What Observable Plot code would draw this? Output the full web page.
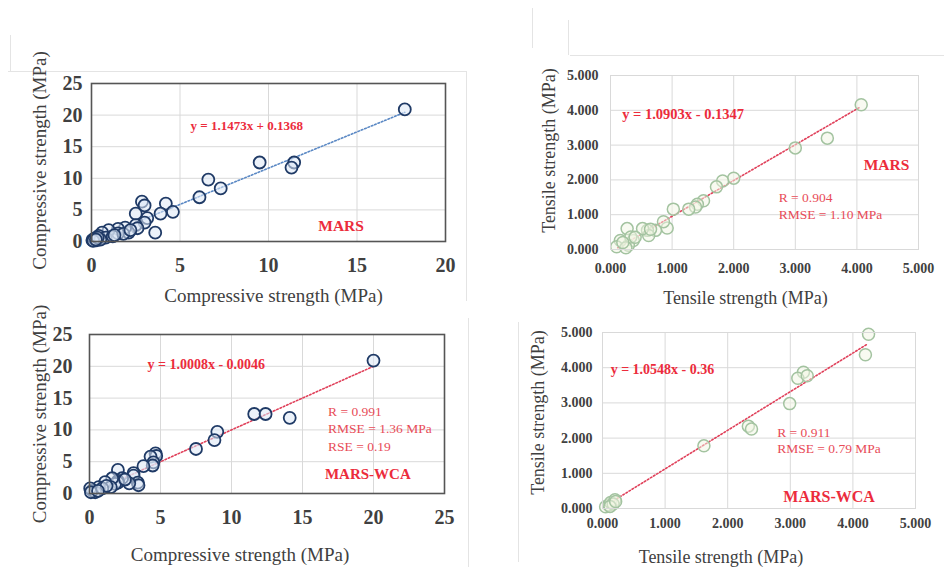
<!DOCTYPE html>
<html>
<head>
<meta charset="utf-8">
<script src="https://cdn.jsdelivr.net/npm/d3@7"></script>
<script src="https://cdn.jsdelivr.net/npm/@observablehq/plot@0.6"></script>
<style>
  html, body { margin: 0; padding: 0; background: #fff; }
  #root { position: relative; width: 944px; height: 567px; overflow: hidden; background: #fff; }
  .panel { position: absolute; }
  .panel svg { overflow: visible; }
  .deco { position: absolute; background: #e4e4e4; }
</style>
</head>
<body>
<div id="root">
  <div class="deco" style="left:8px;top:71px;width:458px;height:1px;"></div>
  <div class="deco" style="left:466px;top:71px;width:1px;height:230px;"></div>
  <div class="deco" style="left:468px;top:318px;width:1px;height:249px;"></div>
  <div class="deco" style="left:570px;top:55px;width:374px;height:1px;"></div>
  <div class="deco" style="left:518px;top:322px;width:1px;height:240px;"></div>
  <div class="deco" style="left:10px;top:35px;width:1px;height:36px;"></div>
  <div class="deco" style="left:532px;top:8px;width:1px;height:40px;"></div>
  <div class="deco" style="left:568px;top:20px;width:1px;height:35px;"></div>
  <div id="p1" class="panel" style="left:0px;top:50px;"></div>
  <div id="p2" class="panel" style="left:0px;top:310px;"></div>
  <div id="p3" class="panel" style="left:470px;top:50px;"></div>
  <div id="p4" class="panel" style="left:470px;top:320px;"></div>
</div>
<script>
// ---------- Data ----------
// Compressive strength, MARS (x = measured, y = predicted)
const compMarsX = [17.7, 9.5, 11.45, 11.3, 6.6, 7.3, 6.1, 2.85, 3.0, 4.2, 4.6, 3.9, 2.5, 3.15, 3.0, 3.6, 2.5, 2.6, 2.1, 1.9, 1.5, 1.5, 0.97, 0.6, 0.4, 0.8, 0.2, 0.05, 1.2, 1.8, 0.3, 0.15, 0.5, 0.1, 0.35, 0.25, 2.2, 1.3];
const compMarsY = [20.9, 12.5, 12.5, 11.7, 9.8, 8.4, 7.0, 6.3, 5.7, 6.0, 4.7, 4.4, 4.4, 3.7, 3.0, 1.4, 2.6, 2.1, 1.4, 2.2, 2.0, 1.3, 1.8, 1.4, 0.9, 0.6, 0.5, 0.2, 0.8, 1.2, 0.2, 0.4, 0.3, 0.1, 0.6, 0.3, 1.8, 1.0];
// Compressive strength, MARS-WCA
const compWcaX = [20.0, 11.6, 12.4, 14.1, 9.0, 8.8, 7.5, 4.65, 4.7, 4.3, 4.5, 4.45, 3.8, 2.0, 3.1, 3.1, 3.4, 3.45, 2.8, 2.3, 2.0, 2.0, 1.8, 1.6, 1.1, 0.65, 1.5, 0.2, 0.4, 0.05, 0.1, 0.9, 1.2, 0.6, 2.5];
const compWcaY = [20.9, 12.5, 12.5, 11.9, 9.7, 8.4, 7.0, 6.3, 5.9, 5.8, 4.9, 4.4, 4.3, 3.7, 3.2, 2.8, 1.7, 1.3, 1.6, 2.4, 2.0, 1.7, 1.5, 2.4, 1.8, 1.0, 1.0, 0.5, 0.2, 0.8, 0.2, 0.8, 1.2, 0.4, 2.2];
// Tensile strength, MARS
const tensMarsX = [4.07, 3.52, 3.0, 2.0, 1.82, 1.72, 1.51, 1.41, 1.38, 1.27, 1.02, 0.92, 0.86, 0.73, 0.6, 0.62, 0.52, 0.27, 0.37, 0.29, 0.16, 0.1, 0.33, 0.25, 0.4, 0.2, 0.65];
const tensMarsY = [4.16, 3.2, 2.92, 2.05, 1.97, 1.8, 1.4, 1.3, 1.22, 1.16, 1.16, 0.62, 0.8, 0.55, 0.55, 0.4, 0.6, 0.6, 0.26, 0.12, 0.26, 0.08, 0.36, 0.05, 0.35, 0.2, 0.58];
// Tensile strength, MARS-WCA
const tensWcaX = [4.25, 4.2, 3.21, 3.12, 3.27, 2.99, 2.33, 2.38, 1.62, 0.05, 0.1, 0.13, 0.2, 0.17, 0.12, 0.21];
const tensWcaY = [4.95, 4.37, 3.87, 3.7, 3.77, 2.98, 2.34, 2.26, 1.78, 0.05, 0.1, 0.17, 0.25, 0.13, 0.06, 0.2];

// Trend lines (end points as drawn)
const trendMarsCompX = [0, 17.7];
const trendMarsCompY = [0.1368, 20.44];
const trendWcaCompX = [0, 20.0];
const trendWcaCompY = [0, 20.0];
const trendMarsTensX = [0.12, 4.06];
const trendMarsTensY = [0.05, 4.1];
const trendWcaTensX = [0.13, 4.24];
const trendWcaTensY = [0.17, 4.68];

// Ticks
const compTicksX1 = [0, 5, 10, 15, 20];
const compTicksX2 = [0, 5, 10, 15, 20, 25];
const compTicksY = [0, 5, 10, 15, 20, 25];
const tensTicks = [0, 1, 2, 3, 4, 5];

// Labels
const compTitle = "Compressive strength (MPa)";
const tensTitle = "Tensile strength (MPa)";
const eqMarsComp = "y = 1.1473x + 0.1368";
const eqWcaComp = "y = 1.0008x - 0.0046";
const eqMarsTens = "y = 1.0903x - 0.1347";
const eqWcaTens = "y = 1.0548x - 0.36";
const statsWcaComp = ["R = 0.991", "RMSE = 1.36 MPa", "RSE = 0.19"];
const statsMarsTens = ["R = 0.904", "RMSE = 1.10 MPa"];
const statsWcaTens = ["R = 0.911", "RMSE = 0.79 MPa"];
const nameMars = "MARS";
const nameWca = "MARS-WCA";

// ---------- Styling ----------
const SERIF = "'Liberation Serif', 'Times New Roman', serif";
const RED = "#ec2c3c";
const RED2 = "#e84c58";
const TXT = "#404040";

function panel(cfg) {
  const idx = cfg.xs.map((_, i) => i);
  const tIdx = cfg.tx.map((_, i) => i);
  const marks = [
    Plot.gridX(cfg.xTicks.filter(v => v > cfg.xDomain[0] && v < cfg.xDomain[1]), {stroke: "#d9d9d9", strokeOpacity: 1, strokeWidth: 1}),
    Plot.gridY(cfg.yTicks.filter(v => v > cfg.yDomain[0] && v < cfg.yDomain[1]), {stroke: "#d9d9d9", strokeOpacity: 1, strokeWidth: 1}),
    Plot.axisX(cfg.xTicks, {tickSize: 0, tickPadding: cfg.xPad, fontSize: cfg.tickFont, fontWeight: "bold", fill: TXT, label: null, tickFormat: cfg.fmt}),
    Plot.axisY(cfg.yTicks, {tickSize: 0, tickPadding: cfg.yPad, fontSize: cfg.tickFont, fontWeight: "bold", fill: TXT, label: null, tickFormat: cfg.fmt}),
    Plot.line(tIdx, {x: i => cfg.tx[i], y: i => cfg.ty[i], stroke: cfg.trendColor, strokeWidth: 1.6, strokeDasharray: "1.6,2"}),
    Plot.dot(idx, {x: i => cfg.xs[i], y: i => cfg.ys[i], r: cfg.r, stroke: cfg.dotStroke, fill: cfg.dotFill, fillOpacity: cfg.dotFillOpacity, strokeWidth: cfg.dotStrokeWidth}),
    Plot.frame({stroke: cfg.frameColor, strokeWidth: cfg.frameWidth}),
    Plot.text([cfg.xTitle], {frameAnchor: "bottom", text: d => d, dx: cfg.xTitleDx, dy: cfg.xTitleDy, lineAnchor: "middle", fontSize: cfg.titleFont, fontWeight: "normal", fill: TXT}),
    Plot.text([cfg.yTitle], {frameAnchor: "left", text: d => d, rotate: -90, textAnchor: "middle", dx: cfg.yTitleDx, dy: cfg.yTitleDy, lineAnchor: "middle", fontSize: cfg.titleFont, fontWeight: "normal", fill: TXT}),
    Plot.text([cfg.eq], {x: cfg.eqX, y: cfg.eqY, text: d => d, textAnchor: "start", lineAnchor: "middle", fontSize: cfg.eqFont, fontWeight: "bold", fill: RED}),
    Plot.text([cfg.name], {x: cfg.nameX, y: cfg.nameY, text: d => d, textAnchor: "middle", lineAnchor: "middle", fontSize: cfg.nameFont, fontWeight: "bold", fill: RED})
  ];
  if (cfg.stats) {
    marks.push(Plot.text([cfg.stats.join("\n")], {x: cfg.statsX, y: cfg.statsY, text: d => d, textAnchor: "start", lineAnchor: "middle", lineHeight: cfg.statsLH, fontSize: cfg.statsFont, fontWeight: "normal", fill: RED2}));
  }
  const chart = Plot.plot({
    width: cfg.width, height: cfg.height,
    marginLeft: cfg.ml, marginRight: cfg.mr, marginTop: cfg.mt, marginBottom: cfg.mb,
    x: {domain: cfg.xDomain, label: null},
    y: {domain: cfg.yDomain, label: null},
    style: {fontFamily: SERIF, background: "transparent", overflow: "visible"},
    marks
  });
  document.getElementById(cfg.id).appendChild(chart);
}

const fmt3 = d3.format(".3f");
const fmt0 = d3.format("d");

panel({
  id: "p1", width: 470, height: 270, ml: 91, mr: 25, mt: 33, mb: 79,
  xs: compMarsX, ys: compMarsY, tx: trendMarsCompX, ty: trendMarsCompY,
  xDomain: [0, 20], yDomain: [0, 25], xTicks: compTicksX1, yTicks: compTicksY, fmt: fmt0,
  tickFont: 20, xPad: 16, yPad: 9, titleFont: 19,
  xTitle: compTitle, yTitle: compTitle, xTitleDx: 5, xTitleDy: 54, yTitleDx: -52, yTitleDy: -2,
  trendColor: "#5a88c4", r: 6, dotStroke: "#1f3a66", dotFill: "#dde8f6", dotFillOpacity: 0.55, dotStrokeWidth: 1.8,
  frameColor: "#555", frameWidth: 1.6,
  eq: eqMarsComp, eqX: 5.6, eqY: 18.35, eqFont: 13,
  name: nameMars, nameX: 14.1, nameY: 2.5, nameFont: 15.5
});

panel({
  id: "p2", width: 470, height: 257, ml: 89, mr: 26, mt: 24, mb: 74,
  xs: compWcaX, ys: compWcaY, tx: trendWcaCompX, ty: trendWcaCompY,
  xDomain: [0, 25], yDomain: [0, 25], xTicks: compTicksX2, yTicks: compTicksY, fmt: fmt0,
  tickFont: 20, xPad: 16, yPad: 17, titleFont: 19,
  xTitle: compTitle, yTitle: compTitle, xTitleDx: -27, xTitleDy: 61, yTitleDx: -50, yTitleDy: 0,
  trendColor: "#e0405a", r: 6, dotStroke: "#1f3a66", dotFill: "#dde8f6", dotFillOpacity: 0.55, dotStrokeWidth: 1.8,
  frameColor: "#555", frameWidth: 1.6,
  eq: eqWcaComp, eqX: 4.08, eqY: 20.25, eqFont: 14,
  name: nameWca, nameX: 19.6, nameY: 3.0, nameFont: 15,
  stats: statsWcaComp, statsX: 16.8, statsY: 10.36, statsLH: 1.3, statsFont: 13.5
});

panel({
  id: "p3", width: 474, height: 270, ml: 140, mr: 26, mt: 25, mb: 71,
  xs: tensMarsX, ys: tensMarsY, tx: trendMarsTensX, ty: trendMarsTensY,
  xDomain: [0, 5], yDomain: [0, 5], xTicks: tensTicks, yTicks: tensTicks, fmt: fmt3,
  tickFont: 14, xPad: 14, yPad: 12, titleFont: 18,
  xTitle: tensTitle, yTitle: tensTitle, xTitleDx: -19, xTitleDy: 49, yTitleDx: -61, yTitleDy: -12,
  trendColor: "#e0405a", r: 6, dotStroke: "#a3c3a0", dotFill: "#f2f6e4", dotFillOpacity: 0.5, dotStrokeWidth: 1.5,
  frameColor: "#d9d9d9", frameWidth: 1,
  eq: eqMarsTens, eqX: 0.19, eqY: 3.87, eqFont: 14.5,
  name: nameMars, nameX: 4.48, nameY: 2.43, nameFont: 15.5,
  stats: statsMarsTens, statsX: 2.73, statsY: 1.27, statsLH: 1.2, statsFont: 13.5
});

panel({
  id: "p4", width: 474, height: 247, ml: 132, mr: 29, mt: 12, mb: 59,
  xs: tensWcaX, ys: tensWcaY, tx: trendWcaTensX, ty: trendWcaTensY,
  xDomain: [0, 5], yDomain: [0, 5], xTicks: tensTicks, yTicks: tensTicks, fmt: fmt3,
  tickFont: 14, xPad: 10, yPad: 10, titleFont: 18,
  xTitle: tensTitle, yTitle: tensTitle, xTitleDx: -38, xTitleDy: 49, yTitleDx: -64, yTitleDy: -8,
  trendColor: "#e0405a", r: 6, dotStroke: "#a3c3a0", dotFill: "#f2f6e4", dotFillOpacity: 0.5, dotStrokeWidth: 1.5,
  frameColor: "#d9d9d9", frameWidth: 1,
  eq: eqWcaTens, eqX: 0.13, eqY: 3.94, eqFont: 14,
  name: nameWca, nameX: 3.62, nameY: 0.34, nameFont: 16,
  stats: statsWcaTens, statsX: 2.79, statsY: 1.94, statsLH: 1.2, statsFont: 13.5
});
</script>
</body>
</html>
